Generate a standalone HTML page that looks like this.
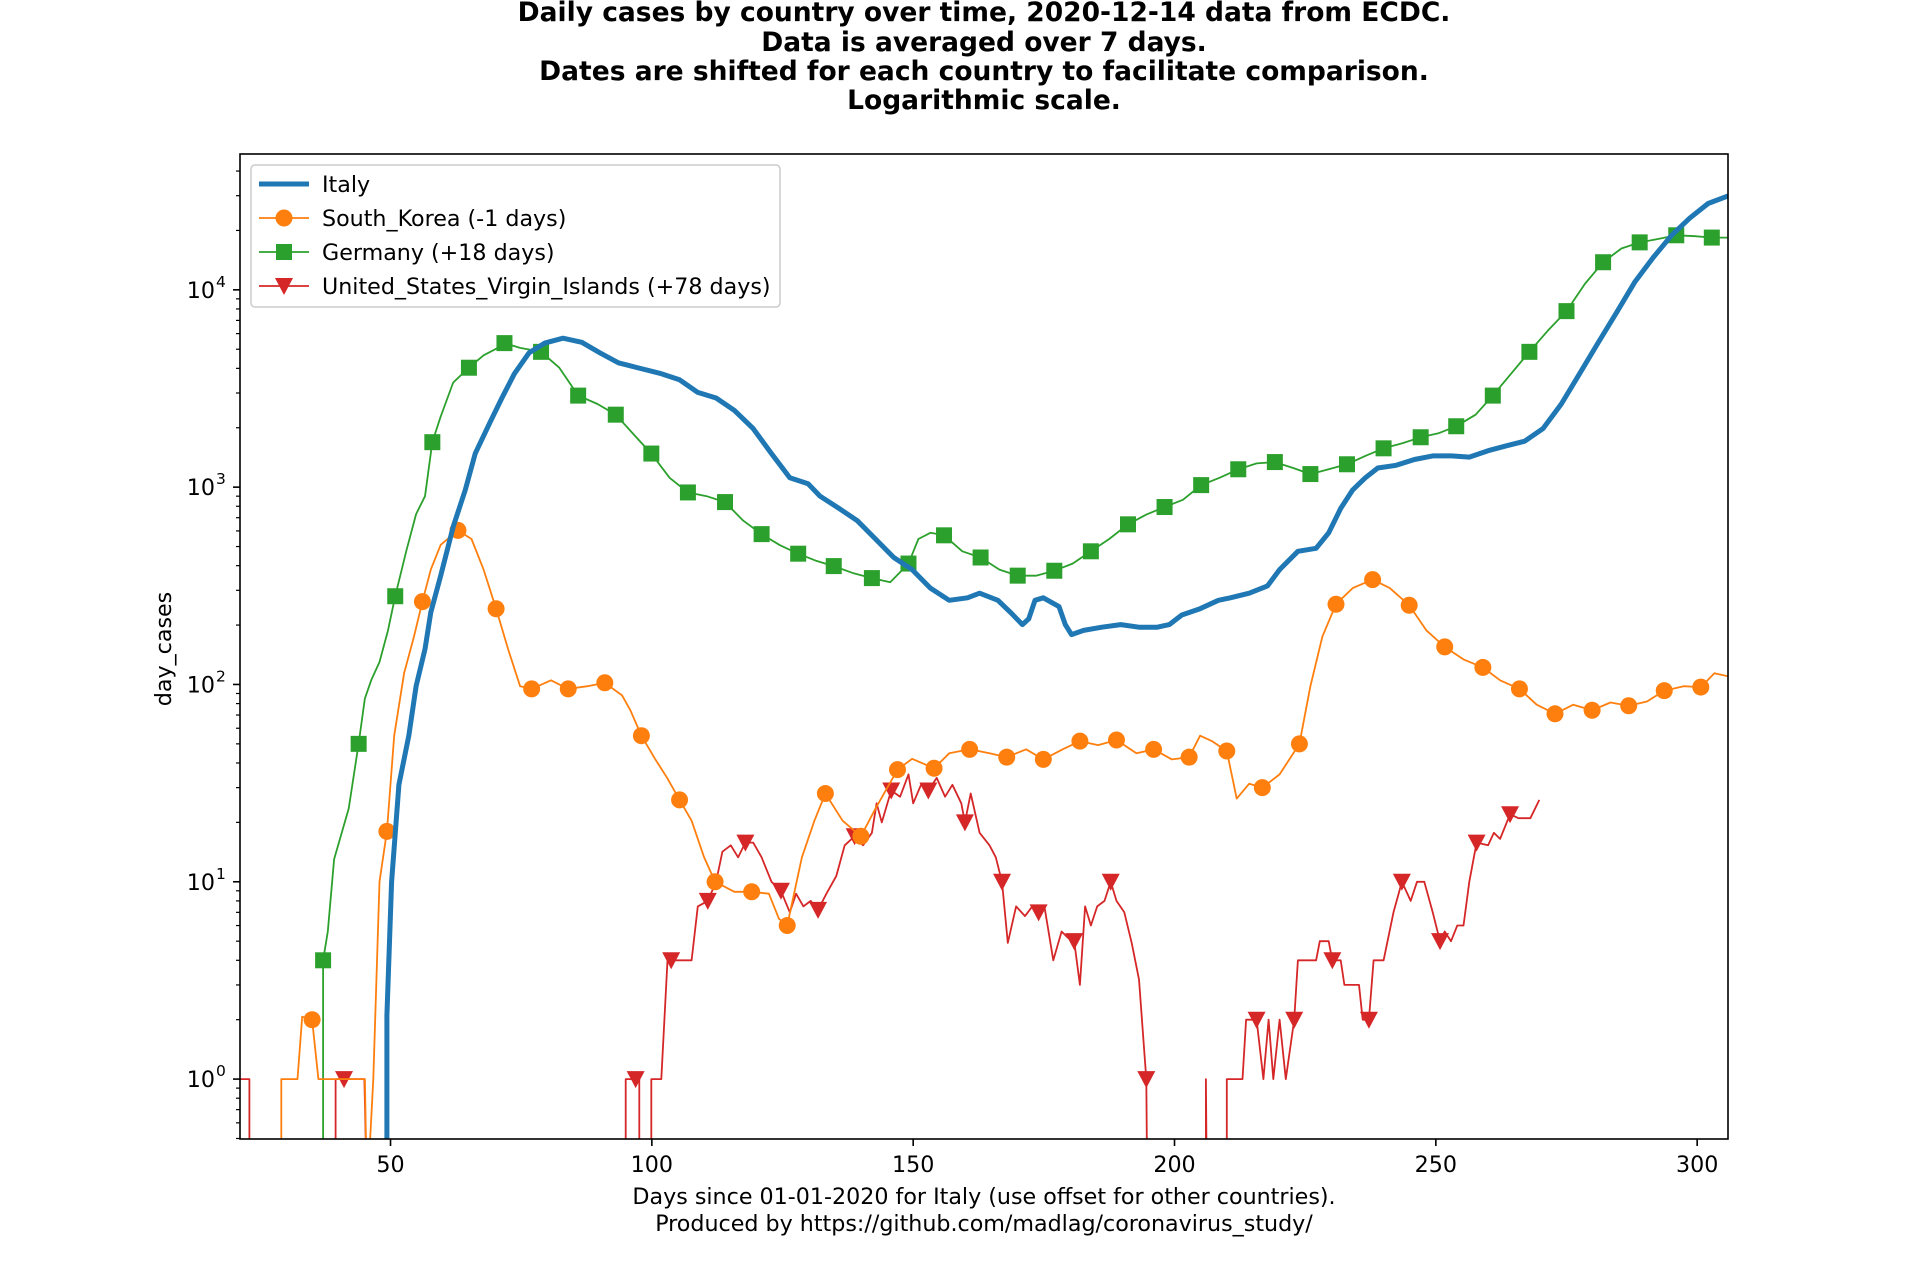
<!DOCTYPE html>
<html><head><meta charset="utf-8"><style>
html,body{margin:0;padding:0;background:#fff;}
svg{display:block;font-family:"DejaVu Sans","Liberation Sans",sans-serif;}
</style></head><body>
<svg id="chart" width="1920" height="1280" viewBox="0 0 1920 1280" xmlns="http://www.w3.org/2000/svg">
<g font-weight="bold" font-size="26.5" text-anchor="middle" fill="#000">
<text x="984" y="21">Daily cases by country over time, 2020-12-14 data from ECDC.</text>
<text x="984" y="51">Data is averaged over 7 days.</text>
<text x="984" y="80">Dates are shifted for each country to facilitate comparison.</text>
<text x="984" y="109">Logarithmic scale.</text>
</g>
<defs><clipPath id="plotclip"><rect x="240" y="154" width="1488" height="985"/></clipPath></defs>
<g id="plot" clip-path="url(#plotclip)"></g>
<rect x="240" y="154" width="1488" height="985" fill="none" stroke="#000" stroke-width="1.6"/>
<g id="axes"></g>
<text x="984" y="1204" font-size="22.2" text-anchor="middle">Days since 01-01-2020 for Italy (use offset for other countries).</text>
<text x="984" y="1231" font-size="22.2" text-anchor="middle">Produced by https://github.com/madlag/coronavirus_study/</text>
<text x="0" y="0" font-size="22.2" text-anchor="middle" transform="translate(171,649) rotate(-90)">day_cases</text>
<g>
<rect x="251" y="165" width="529" height="142" rx="4" fill="#fff" fill-opacity="0.8" stroke="#ccc" stroke-width="1.5"/>
<g><line x1="259" y1="184" x2="309" y2="184" stroke="#1f77b4" stroke-width="5"/><text x="322" y="192" font-size="22.2">Italy</text></g>
<g><line x1="259" y1="218" x2="309" y2="218" stroke="#ff7f0e" stroke-width="1.8"/><circle cx="284" cy="218" r="8.5" fill="#ff7f0e"/><text x="322" y="226" font-size="22.2">South_Korea (-1 days)</text></g>
<g><line x1="259" y1="252" x2="309" y2="252" stroke="#2ca02c" stroke-width="1.8"/><rect x="276" y="244" width="16" height="16" fill="#2ca02c"/><text x="322" y="260" font-size="22.2">Germany (+18 days)</text></g>
<g><line x1="259" y1="286" x2="309" y2="286" stroke="#d62728" stroke-width="1.8"/><path d="M275,278 L293,278 L284,295 Z" fill="#d62728"/><text x="322" y="294" font-size="22.2">United_States_Virgin_Islands (+78 days)</text></g>
</g>
</svg>
<script>
const xTicks = [50, 100, 150, 200, 250, 300];
const yTickExps = [0, 1, 2, 3, 4];

const italyDays = [49.3,49.3,50.2,51.6,53.5,54.9,56.6,57.7,59.6,62,64.3,66.2,69,71.3,73.7,76.5,79.5,83,86.6,90.1,93.6,97.1,101.8,105.3,108.8,112.3,115.8,119.4,122.9,126.4,129.9,132.2,135.8,139.3,142.8,146.3,149.8,153.3,156.9,160.4,162.7,166.2,168.6,170.9,172.1,173.3,174.9,177.9,179.1,180.3,182.6,186.1,189.7,193.2,196.7,199,201.4,204.9,208.4,210.7,214.3,217.8,220.1,223.6,227.1,229.5,231.8,234.1,236.5,238.9,242.4,245.9,249.4,253,256.4,260,263.5,267,270.5,274,277.5,281,284.6,288.1,291.6,295.1,298.6,302.1,305.9];
const italyVals = [0,2.1,10,31,55,98,151,232,356,630,968,1480,2120,2830,3760,4790,5370,5690,5420,4790,4270,4040,3760,3500,3020,2830,2450,1980,1480,1115,1040,900,780,676,546,440,382,308,267,275,290,267,232,201,215,267,275,248,201,179,188,195,201,195,195,201,225,242,267,275,290,316,382,473,490,587,780,968,1115,1250,1290,1380,1440,1440,1420,1530,1620,1710,1980,2640,3760,5370,7690,11000,14600,18900,23100,27400,29900];

const koreaDays = [29.1,29.1,32.2,33.1,35,36.2,45.1,45.5,46.7,47.9,49.3,50.7,52.6,54.5,56.1,57.7,59.6,62.9,65.5,67.8,70.2,72.5,74.8,77,80.7,84,87.7,91,94.3,95.9,98,100.6,102.9,105.3,107.6,110,112.1,115.8,119.1,122.4,124.3,125.9,128.7,131.1,133.2,136.5,140,142.8,147,149.8,154,156.9,160.8,164.6,167.9,171.6,174.9,178.6,181.9,185.4,188.9,192.7,196,199.5,202.8,204.9,207.2,210,211.9,214.3,216.8,220.1,223.9,226,228.3,230.9,234.1,237.9,241.2,244.9,248.2,251.7,255.3,259,262.3,266,269.3,272.8,276.3,279.9,283.4,286.9,290.4,293.7,297.4,300.7,303.3,305.9];
const koreaVals = [0,1,1,2.07,2,1,1,0,1,10,18,55,114,175,263,382,510,604,546,382,242,151,98,95,105,95,98,102,88,74,55,42,33.7,26,20.4,13.3,10,8.9,8.9,8.7,6.5,6,13.3,20.4,28,20.4,17,23.5,37,42,37.6,44.8,46.9,44.8,42.8,46.9,41.7,46.9,51.6,49.3,52.3,44.8,46.9,41.7,42.8,55,51.6,46,26.4,31.4,30,35,50,98,175,255,308,340,308,252,188,155,134,122,105,95,79,71,79,74,81,78,82,93,98,97,114,110];
const koreaMarkDays = [35,49.3,56.1,62.9,70.2,77,84,91,98,105.3,112.1,119.1,125.9,133.2,140,147,154,160.8,167.9,174.9,181.9,188.9,196,202.8,210,216.8,223.9,230.9,237.9,244.9,251.7,259,266,272.8,279.9,286.9,293.7,300.7];
const koreaMarkVals = [2,18,263,604,242,95,95,102,55,26,10,8.9,6,28,17,37,37.6,46.9,42.8,41.7,51.6,52.3,46.9,42.8,46,30,50,255,340,252,155,122,95,71,74,78,93,97];

const germanyDays = [37.1,37.1,38,39.2,42,43.9,45.1,46.3,47.9,49.5,50.9,53,54.9,56.6,58,59.6,62,65,67.8,70.1,71.8,74.8,78.8,82.3,85.9,89.6,93.1,96.6,99.9,103.4,106.9,110.5,114,117.5,121,124.5,128,131.5,134.8,138.6,142.1,145.6,149.1,151,153.3,155.9,159.4,162.9,166.5,170,173.5,177,180.5,184,187.5,191.1,194.6,198.1,201.6,205.1,208.6,212.2,215.7,219.2,222.7,226,229.5,233,236.5,240,243.5,247.1,250.6,253.9,257.6,260.9,264.4,267.9,271.4,275,278.5,282,285.5,289,292.5,296,299.6,302.8,305.9];
const germanyVals = [0,4,5.6,13,23.5,50,85,105,130,187,280,473,730,900,1690,2280,3390,4030,4660,5010,5370,5080,4850,4030,2910,2640,2330,1840,1480,1115,940,900,840,676,578,508,460,423,398,366,346,330,410,546,587,570,473,440,382,356,356,377,410,473,546,648,726,793,863,1024,1115,1232,1320,1340,1250,1165,1232,1306,1440,1573,1667,1790,1880,2035,2330,2910,3760,4850,6200,7800,10700,13800,16200,17400,18100,18900,18700,18400,18400];
const germanyMarkDays = [37.1,43.9,50.9,58,65,71.8,78.8,85.9,93.1,99.9,106.9,114,121,128,134.8,142.1,149.1,155.9,162.9,170,177,184,191.1,198.1,205.1,212.2,219.2,226,233,240,247.1,253.9,260.9,267.9,275,282,289,296,302.8];
const germanyMarkVals = [4,50,280,1690,4030,5370,4850,2910,2330,1480,940,840,578,460,398,346,410,570,440,356,377,473,648,793,1024,1232,1340,1165,1306,1573,1790,2035,2910,4850,7800,13800,17400,18900,18400];

const usviDays = [21.2,23,23,39.5,39.5,45,45.5,95,95,97.6,97.6,99.9,99.9,101.8,103,105.3,107.6,108.8,110.7,112.3,113.5,115.1,116.5,117.9,119.4,121,122.9,124.7,126.4,127.6,129,130.4,131.8,133.4,135.3,136.9,138.8,140.4,142.1,143,144,145.8,147.5,149.1,150,151.5,152.9,154.5,156.1,157.5,159.2,159.9,161,162.7,164.6,165.8,167,168.1,169.7,171.4,172.8,174,175.1,176.8,178.4,179.6,180.8,181.9,182.9,184,185.2,186.6,187.8,188.9,190.4,191.8,193.2,194.6,194.8,206,206,206.2,210,210,213,213.7,215.7,217,218,218.9,220.1,221.3,222.9,223.6,227.1,227.8,229.5,230.2,231.8,232.5,235.3,236,237.2,238.1,240,241.9,243.5,245.2,246.4,247.8,249.4,250.8,251.7,252.9,254.1,255.3,256.4,257.8,260,261.1,262.3,264.2,265.8,268.1,269.8];
const usviVals = [1,1,0,0,1,1,0,0,1,1,0,0,1,1,4,4,4,7.5,8,10,14.2,15.3,13.3,15.8,15.8,13.3,10,9,7,8.7,7.5,8,7.2,8.7,10.7,15.3,17,15.3,17.7,25,20,29,27,35,25,31,29,33.6,27,31,25,20,28,17.7,15.3,13.3,10,4.9,7.5,6.7,7.5,7,7.5,4,5.6,5.2,5,3,7.5,6,7.5,8,10,8,7,4.9,3.2,1,0,0,1,0,0,1,1,2,2,1,2,1,2,1,2,4,4,5,5,4,4,3,3,2,2,4,4,7,10,8,10,10,7,5,5.6,5,6,6,10,15.8,15.3,17.7,16.5,22,21,21,26];
const usviMarkDays = [41.1,96.9,103.7,110.7,117.9,124.7,131.8,138.8,145.8,152.9,159.9,167,174,180.8,187.8,194.6,215.7,222.9,230.2,237.2,243.5,250.8,257.8,264.2];
const usviMarkVals = [1,1,4,8,15.8,9,7.2,17,29,29,20,10,7,5,10,1,2,2,4,2,10,5,15.8,22];

const NS = 'http://www.w3.org/2000/svg';
const L = 240, R = 1728, T = 154, B = 1139;
const xMin = 21.2, xMax = 305.9;
const yMinLog = Math.log10(0.497), yMaxLog = Math.log10(48800);
function xs(d){ return L + (d - xMin) / (xMax - xMin) * (R - L); }
function ys(v){ if (v <= 0) return B + 60; return B - (Math.log10(v) - yMinLog) / (yMaxLog - yMinLog) * (B - T); }

const plot = document.getElementById('plot');
const axes = document.getElementById('axes');
function mk(tag, attrs, parent){ const e = document.createElementNS(NS, tag); for (const k in attrs) e.setAttribute(k, attrs[k]); parent.appendChild(e); return e; }

function drawLine(days, vals, color, width, name){
  let d = '';
  for (let i = 0; i < days.length; i++) d += (i ? 'L' : 'M') + xs(days[i]).toFixed(1) + ',' + ys(vals[i]).toFixed(1);
  const p = mk('path', {d: d, fill: 'none', stroke: color, 'stroke-width': width, 'stroke-linejoin': 'round'}, plot);
  
  
}
function drawMarkers(days, vals, color, shape, name){
  for (let i = 0; i < days.length; i++){
    const x = xs(days[i]), y = ys(vals[i]);
    let m;
    if (shape === 'circle') m = mk('circle', {cx: x, cy: y, r: 8.5, fill: color}, plot);
    else if (shape === 'square') m = mk('rect', {x: x - 8, y: y - 8, width: 16, height: 16, fill: color}, plot);
    else m = mk('path', {d: 'M' + (x - 9) + ',' + (y - 8) + 'L' + (x + 9) + ',' + (y - 8) + 'L' + x + ',' + (y + 9) + 'Z', fill: color}, plot);
    
    
  }
}

drawLine(usviDays, usviVals, '#d62728', 1.8, 'usvi-line');
drawMarkers(usviMarkDays, usviMarkVals, '#d62728', 'tri', 'usvi-marker');
drawLine(germanyDays, germanyVals, '#2ca02c', 1.8, 'germany-line');
drawMarkers(germanyMarkDays, germanyMarkVals, '#2ca02c', 'square', 'germany-marker');
drawLine(koreaDays, koreaVals, '#ff7f0e', 1.8, 'south-korea-line');
drawMarkers(koreaMarkDays, koreaMarkVals, '#ff7f0e', 'circle', 'south-korea-marker');
drawLine(italyDays, italyVals, '#1f77b4', 5, 'italy-line');

xTicks.forEach(function(t){
  const x = xs(t);
  const tk = mk('line', {x1: x, x2: x, y1: B, y2: B + 7, stroke: '#000', 'stroke-width': 1.6}, axes);
  
  
  const lb = mk('text', {x: x, y: B + 33, 'font-size': 22.2, 'text-anchor': 'middle'}, axes);
  lb.textContent = t;
  
  
});
for (let e = -1; e <= 4; e++){
  for (let m = 1; m <= 9; m++){
    const v = m * Math.pow(10, e);
    const y = ys(v);
    if (y < T - 0.5 || y > B + 0.5) continue;
    const major = (m === 1);
    const tk = mk('line', {x1: L - (major ? 7 : 4), x2: L, y1: y, y2: y, stroke: '#000', 'stroke-width': major ? 1.6 : 1.2}, axes);
    
    
  }
}
yTickExps.forEach(function(e){
  const y = ys(Math.pow(10, e));
  const lb = mk('text', {x: 215, y: y + 8, 'font-size': 22.2, 'text-anchor': 'end'}, axes);
  lb.textContent = '10';
  
  
  const sp = mk('text', {x: 216, y: y - 3, 'font-size': 15.5}, axes);
  sp.textContent = e;
  
  
});
</script>
</body></html>
